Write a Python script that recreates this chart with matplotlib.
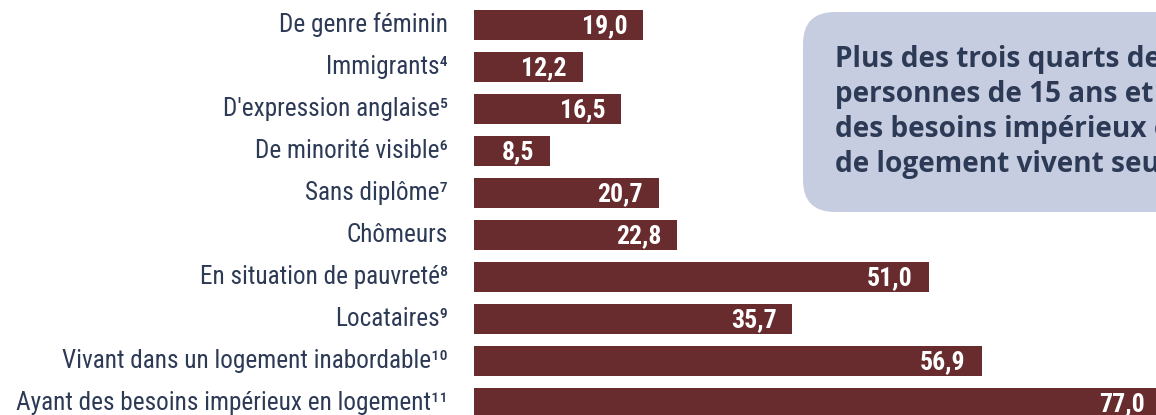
import matplotlib
matplotlib.use("Agg")
import matplotlib.pyplot as plt
from matplotlib.patches import FancyBboxPatch

categories = [
    "De genre féminin",
    "Immigrants⁴",
    "D'expression anglaise⁵",
    "De minorité visible⁶",
    "Sans diplôme⁷",
    "Chômeurs",
    "En situation de pauvreté⁸",
    "Locataires⁹",
    "Vivant dans un logement inabordable¹⁰",
    "Ayant des besoins impérieux en logement¹¹",
]
values = [19.0, 12.2, 16.5, 8.5, 20.7, 22.8, 51.0, 35.7, 56.9, 77.0]
callout_lines = [
    "Plus des trois quarts des",
    "personnes de 15 ans et plus ayant",
    "des besoins impérieux en matière",
    "de logement vivent seules.",
]

bar_color = "#692c2e"
text_color = "#2d3a56"
box_color = "#c7cde0"
narrow = ["Roboto Condensed", "Archivo Narrow", "DejaVu Sans"]
bold_sans = ["Open Sans", "DejaVu Sans"]

W, H = 1156, 415
fig = plt.figure(figsize=(W / 100, H / 100), dpi=100)

# axes start where the bars start (x = 474 px)
x0 = 474
ax = fig.add_axes([x0 / W, 0, (W - x0) / W, 1])
px_per_unit = 8.92
pitch = 42
ax.set_xlim(0, (W - x0) / px_per_unit)
ax.set_ylim((H - 25) / pitch, -25 / pitch)

ypos = list(range(len(categories)))
ax.barh(ypos, values, height=30 / pitch, color=bar_color, edgecolor="none")

for y, v in zip(ypos, values):
    ax.text(v - 16 / px_per_unit, y + 0.03, f"{v:.1f}".replace(".", ","),
            ha="right", va="center", color="white", fontsize=18.5,
            fontweight="bold", family=narrow)

# category labels, baseline ~7 px under the bar centre
for y, name in zip(ypos, categories):
    ax.text(-26 / px_per_unit, y + 7 / pitch, name, ha="right", va="baseline",
            fontsize=18.2, color=text_color, family=narrow, clip_on=False)

ax.set_yticks([])
ax.set_xticks([])
for s in ax.spines.values():
    s.set_visible(False)
ax.patch.set_alpha(0)

# callout box (in inches), runs off the right edge like the original
box = FancyBboxPatch((8.03, (H - 212) / 100), 4.5, 2.0,
                     boxstyle="round,pad=0,rounding_size=0.32",
                     transform=fig.dpi_scale_trans, facecolor=box_color,
                     edgecolor="none", zorder=3)
fig.patches.append(box)
baselines = [67, 102, 137, 172]
for line, b in zip(callout_lines, baselines):
    fig.text(8.35, (H - b) / 100, line, transform=fig.dpi_scale_trans,
             ha="left", va="baseline", fontsize=20.2, fontweight="bold",
             color=text_color, family=bold_sans, zorder=4)

fig.savefig("out.png", dpi=100)
